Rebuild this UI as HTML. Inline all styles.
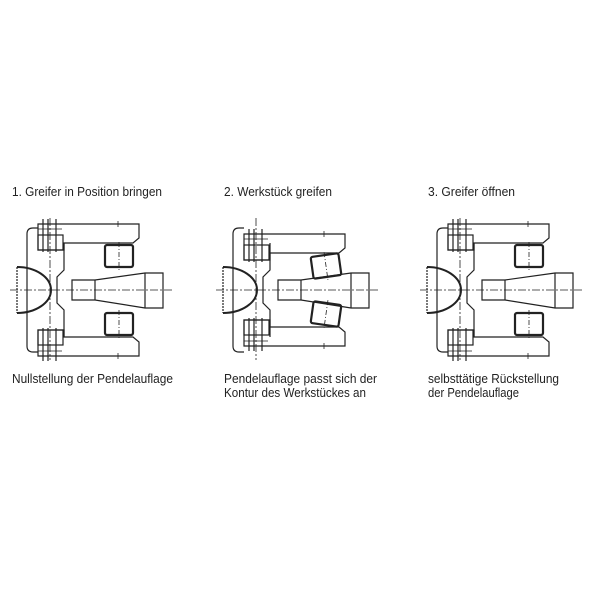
<!DOCTYPE html>
<html><head><meta charset="utf-8"><style>
html,body{margin:0;padding:0;background:#fff}
svg{display:block}
text{font-family:"Liberation Sans Narrow","Liberation Sans",sans-serif;font-size:13px;fill:#222}
</style></head><body>
<svg width="600" height="600" viewBox="0 0 600 600" xmlns="http://www.w3.org/2000/svg">
<defs>
<g id="body" fill="none" stroke="#222" stroke-width="1.2">
  <path d="M38,228 H33 Q27,228 27,234 V346 Q27,352 33,352 H38"/>
  <path d="M64,243 V270 L57,277 V303 L64,310 V337"/>
  <path d="M17,267 A34,23 0 0 1 17,313" stroke-width="2"/>
  <line x1="17" y1="267" x2="17" y2="313" stroke-dasharray="2,1"/>
  <path d="M72,280 H95 L145,273 H163 V308 H145 L95,300 H72 Z"/>
  <line x1="95" y1="280" x2="95" y2="300"/>
  <line x1="145" y1="273" x2="145" y2="308"/>
  <line x1="10" y1="290" x2="172" y2="290" stroke-width="0.8" stroke-dasharray="8,2,2,2"/>
  <line x1="50" y1="218" x2="50" y2="360" stroke-width="0.8" stroke-dasharray="8,2,2,2"/>
</g>
<g id="armT" fill="none" stroke="#222" stroke-width="1.2">
  <path d="M38,224 H139 V238 L133,243 H64 V250 H38 Z"/>
  <rect x="38" y="235" width="25" height="15"/>
  <line x1="43" y1="219" x2="43" y2="252"/>
  <line x1="48" y1="219" x2="48" y2="252"/>
  <line x1="56" y1="219" x2="56" y2="252"/>
  <line x1="38" y1="229" x2="62" y2="229" stroke-width="0.8"/>
  <line x1="118" y1="221" x2="118" y2="227" stroke-width="0.8"/>
</g>
<g id="armB" transform="translate(0,580) scale(1,-1)"><use href="#armT"/></g>
<g id="roller" fill="none" stroke="#222">
  <rect x="-14" y="-11" width="28" height="22" rx="2" stroke-width="2.2"/>
  <line x1="0" y1="-14" x2="0" y2="14" stroke-width="0.8" stroke-dasharray="5,2,1,2"/>
</g>
</defs>

<!-- panel 1 -->
<g>
  <use href="#body"/><use href="#armT"/><use href="#armB"/>
  <use href="#roller" transform="translate(119,256)"/>
  <use href="#roller" transform="translate(119,324)"/>
</g>
<!-- panel 2 -->
<g transform="translate(206,0)">
  <use href="#body"/>
  <use href="#armT" transform="translate(0,10)"/>
  <use href="#armB" transform="translate(0,-10)"/>
  <use href="#roller" transform="translate(120,266) rotate(-8)"/>
  <use href="#roller" transform="translate(120,314) rotate(8)"/>
</g>
<!-- panel 3 -->
<g transform="translate(410,0)">
  <use href="#body"/><use href="#armT"/><use href="#armB"/>
  <use href="#roller" transform="translate(119,256)"/>
  <use href="#roller" transform="translate(119,324)"/>
</g>

<text x="12" y="196" textLength="150" lengthAdjust="spacingAndGlyphs">1. Greifer in Position bringen</text>
<text x="224" y="196" textLength="108" lengthAdjust="spacingAndGlyphs">2. Werkstück greifen</text>
<text x="428" y="196" textLength="87" lengthAdjust="spacingAndGlyphs">3. Greifer öffnen</text>
<text x="12" y="383" textLength="161" lengthAdjust="spacingAndGlyphs">Nullstellung der Pendelauflage</text>
<text x="224" y="383" textLength="153" lengthAdjust="spacingAndGlyphs">Pendelauflage passt sich der</text>
<text x="224" y="397" textLength="142" lengthAdjust="spacingAndGlyphs">Kontur des Werkstückes an</text>
<text x="428" y="383" textLength="131" lengthAdjust="spacingAndGlyphs">selbsttätige Rückstellung</text>
<text x="428" y="397" textLength="91" lengthAdjust="spacingAndGlyphs">der Pendelauflage</text>
</svg>
</body></html>
